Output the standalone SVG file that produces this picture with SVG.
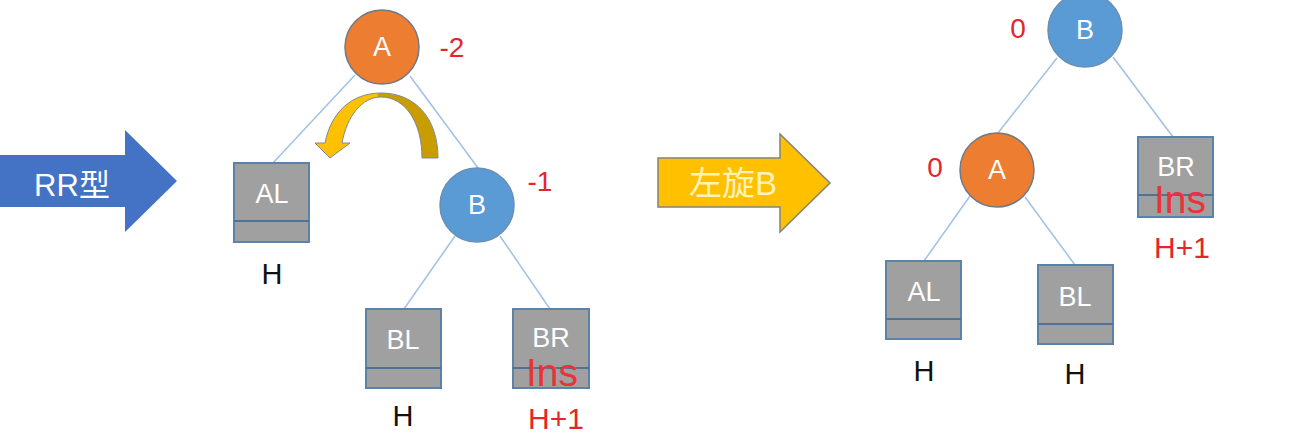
<svg xmlns="http://www.w3.org/2000/svg" width="1305" height="440" viewBox="0 0 1305 440">
<defs>
<style>
.t{font-family:"Liberation Sans","Noto Sans CJK SC",sans-serif;text-anchor:middle}
.lbl{fill:#ffffff;font-size:27px}
.red{fill:#e3262b;font-size:28px}
.blk{fill:#111111;font-size:29px}
.ins{fill:#e8333a;font-size:39px}
.hp{fill:#e3262b;font-size:30px}
.box{fill:#a0a0a0;stroke:#5b82a8;stroke-width:2}
.div{stroke:#4f7394;stroke-width:2}
.ca{fill:#ed7d31;stroke:#6b7a88;stroke-width:1.5}
.cb{fill:#5b9bd5;stroke:#6a8fb0;stroke-width:1.5}
.edge{stroke:#9fc2e4;stroke-width:1.5;fill:none}
</style>
<linearGradient id="arcg" x1="0" y1="0" x2="1" y2="0">
<stop offset="0" stop-color="#ffc000"/>
<stop offset="0.5" stop-color="#ffc000"/>
<stop offset="0.52" stop-color="#c99c00"/>
<stop offset="1" stop-color="#c99c00"/>
</linearGradient>
</defs>
<rect width="1305" height="440" fill="#ffffff"/>

<g id="connectors">
<line class="edge" x1="355" y1="75" x2="273" y2="163"/>
<line class="edge" x1="410" y1="76" x2="478" y2="168"/>
<line class="edge" x1="455" y1="236" x2="404" y2="309"/>
<line class="edge" x1="500" y1="236" x2="550" y2="309"/>
<line class="edge" x1="1057" y1="58" x2="998" y2="133"/>
<line class="edge" x1="1113" y1="57" x2="1173" y2="137"/>
<line class="edge" x1="970" y1="196" x2="924" y2="261"/>
<line class="edge" x1="1025" y1="197" x2="1075" y2="265"/>
</g>

<g id="arrow-rr">
<path d="M0,155 L125,155 L125,130 L177,181 L125,232 L125,207 L0,207 Z" fill="#4472c4"/>
<text class="t" x="72" y="196" font-size="31" fill="#ffffff">RR型</text>
</g>

<g id="rotate-arrow">
<path d="M438,158 C438,118 415,93 381,93 C352,93 331,112 325,143 L315,143 L330,158 L350,143 L342,143 C347,116 362,97 381,97 C405,97 422,122 422,158 Z" fill="url(#arcg)" stroke="#7c8b98" stroke-width="1"/>
</g>

<g id="node-A">
<circle class="ca" cx="382" cy="47" r="37"/>
<text class="t lbl" x="382" y="56">A</text>
<text class="t red" x="452" y="57">-2</text>
</g>

<g id="node-B">
<circle class="cb" cx="477" cy="205" r="37"/>
<text class="t lbl" x="477" y="214">B</text>
<text class="t red" x="540" y="191">-1</text>
</g>

<g id="node-AL">
<rect class="box" x="234" y="163" width="75" height="79"/>
<line class="div" x1="234" y1="221" x2="309" y2="221"/>
<text class="t lbl" x="272" y="203">AL</text>
<text class="t blk" x="272" y="284">H</text>
</g>

<g id="node-BL">
<rect class="box" x="366" y="309" width="75" height="79"/>
<line class="div" x1="366" y1="368" x2="441" y2="368"/>
<text class="t lbl" x="403" y="349">BL</text>
<text class="t blk" x="403" y="426">H</text>
</g>

<g id="node-BR">
<rect class="box" x="513" y="309" width="76" height="79"/>
<line class="div" x1="513" y1="368" x2="589" y2="368"/>
<text class="t lbl" x="551" y="347">BR</text>
<text class="t ins" x="552" y="386">Ins</text>
<text class="t hp" x="556" y="429">H+1</text>
</g>

<g id="arrow-rotate">
<path d="M658,158 L780,158 L780,134 L830,183 L780,232 L780,207 L658,207 Z" fill="#ffc000" stroke="#7f8478" stroke-width="1.5"/>
<text class="t" x="733" y="195" font-size="33" fill="#fff3b8">左旋B</text>
</g>

<g id="node-B2">
<circle class="cb" cx="1085" cy="30" r="37"/>
<text class="t lbl" x="1085" y="39">B</text>
<text class="t red" x="1018" y="38" font-size="30">0</text>
</g>

<g id="node-A2">
<circle class="ca" cx="997" cy="170" r="37"/>
<text class="t lbl" x="997" y="179">A</text>
<text class="t red" x="935" y="177" font-size="30">0</text>
</g>

<g id="node-BR2">
<rect class="box" x="1138" y="137" width="75" height="80"/>
<line class="div" x1="1138" y1="195" x2="1213" y2="195"/>
<text class="t lbl" x="1176" y="176">BR</text>
<text class="t ins" x="1180" y="213">Ins</text>
<text class="t hp" x="1182" y="258">H+1</text>
</g>

<g id="node-AL2">
<rect class="box" x="886" y="261" width="75" height="78"/>
<line class="div" x1="886" y1="319" x2="961" y2="319"/>
<text class="t lbl" x="924" y="301">AL</text>
<text class="t blk" x="924" y="381">H</text>
</g>

<g id="node-BL2">
<rect class="box" x="1038" y="265" width="75" height="79"/>
<line class="div" x1="1038" y1="324" x2="1113" y2="324"/>
<text class="t lbl" x="1075" y="306">BL</text>
<text class="t blk" x="1075" y="384">H</text>
</g>
</svg>
